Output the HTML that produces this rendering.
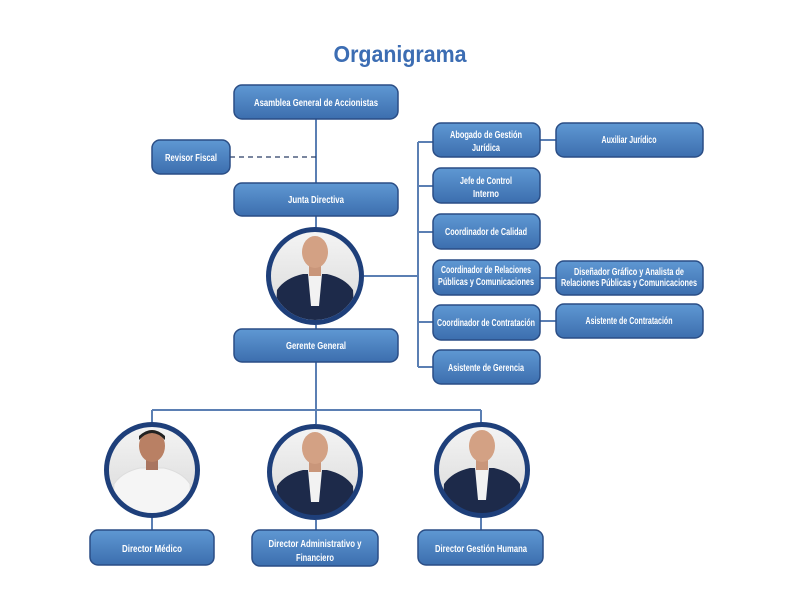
<!DOCTYPE html>
<html><head><meta charset="utf-8"><style>
html,body{margin:0;padding:0;background:#fff;}
svg{display:block;}
text{font-family:"Liberation Sans Narrow","Liberation Sans",sans-serif;font-weight:bold;fill:#fff;text-anchor:middle;}
</style></head><body>
<svg width="794" height="609" viewBox="0 0 794 609" xmlns="http://www.w3.org/2000/svg">
<defs>
<linearGradient id="bg" x1="0" y1="0" x2="0" y2="1">
<stop offset="0" stop-color="#5f98d3"/><stop offset="1" stop-color="#3c6eae"/></linearGradient>
<linearGradient id="ph" x1="0" y1="0" x2="0" y2="1">
<stop offset="0" stop-color="#f4f4f4"/><stop offset="1" stop-color="#d8d8d8"/></linearGradient>
<clipPath id="cc"><circle cx="0" cy="0" r="44"/></clipPath>
<g id="man">
<circle r="44" fill="url(#ph)"/>
<g clip-path="url(#cc)">
<path d="M-40 50 L-38 14 Q-30 2 -12 -2 L12 -2 Q30 2 38 14 L40 50 Z" fill="#1d2a4a"/>
<path d="M-7 -2 L7 -2 L4 30 L-4 30 Z" fill="#f2f2f2"/>
<rect x="-6" y="-14" width="12" height="14" fill="#c9967a"/>
<ellipse cx="0" cy="-24" rx="13" ry="16" fill="#d3a184"/>
</g></g>
<g id="manw">
<circle r="44" fill="url(#ph)"/>
<g clip-path="url(#cc)">
<path d="M-40 50 L-38 14 Q-30 2 -12 -2 L12 -2 Q30 2 38 14 L40 50 Z" fill="#f5f5f5" stroke="#ddd"/>
<rect x="-6" y="-14" width="12" height="14" fill="#a97560"/>
<ellipse cx="0" cy="-24" rx="13" ry="16" fill="#b98064"/>
<path d="M-13 -30 Q0 -44 13 -30 L13 -34 Q0 -46 -13 -34Z" fill="#222"/>
</g></g>
</defs>

<text x="400" y="62" textLength="133" lengthAdjust="spacingAndGlyphs" style="font-family:'Liberation Sans',sans-serif;font-size:23px;fill:#3c6db3">Organigrama</text>

<g stroke="#5b7fb3" stroke-width="2" fill="none">
<line x1="316" y1="119" x2="316" y2="230"/>
<line x1="316" y1="325" x2="316" y2="329"/>
<line x1="364" y1="276" x2="418" y2="276"/>
<line x1="418" y1="142" x2="418" y2="367"/>
<line x1="418" y1="142" x2="433" y2="142"/>
<line x1="418" y1="186" x2="433" y2="186"/>
<line x1="418" y1="232" x2="433" y2="232"/>
<line x1="418" y1="322" x2="433" y2="322"/>
<line x1="418" y1="367" x2="433" y2="367"/>
<line x1="540" y1="140" x2="556" y2="140"/>
<line x1="540" y1="278" x2="556" y2="278"/>
<line x1="540" y1="321" x2="556" y2="321"/>
<line x1="316" y1="362" x2="316" y2="424"/>
<line x1="152" y1="410" x2="481" y2="410"/>
<line x1="152" y1="410" x2="152" y2="423"/>
<line x1="481" y1="410" x2="481" y2="423"/>
<line x1="152" y1="517" x2="152" y2="530"/>
<line x1="316" y1="520" x2="316" y2="530"/>
<line x1="481" y1="517" x2="481" y2="530"/>
</g>
<line x1="230" y1="157" x2="316" y2="157" stroke="#2a3e66" stroke-width="1.3" stroke-dasharray="5,4"/>

<g fill="url(#bg)" stroke="#2a4d85" stroke-width="1.5">
<rect x="234" y="85" width="164" height="34" rx="8"/>
<rect x="152" y="140" width="78" height="34" rx="8"/>
<rect x="234" y="183" width="164" height="33" rx="8"/>
<rect x="234" y="329" width="164" height="33" rx="8"/>
<rect x="433" y="123" width="107" height="34" rx="8"/>
<rect x="433" y="168" width="107" height="35" rx="8"/>
<rect x="433" y="214" width="107" height="35" rx="8"/>
<rect x="433" y="260" width="107" height="35" rx="8"/>
<rect x="433" y="305" width="107" height="35" rx="8"/>
<rect x="433" y="350" width="107" height="34" rx="8"/>
<rect x="556" y="123" width="147" height="34" rx="8"/>
<rect x="556" y="261" width="147" height="34" rx="8"/>
<rect x="556" y="304" width="147" height="34" rx="8"/>
<rect x="90" y="530" width="124" height="35" rx="8"/>
<rect x="252" y="530" width="126" height="36" rx="8"/>
<rect x="418" y="530" width="125" height="35" rx="8"/>
</g>

<g style="font-size:10px">
<text x="316" y="106" textLength="124" lengthAdjust="spacingAndGlyphs">Asamblea General de Accionistas</text>
<text x="191" y="161" textLength="52" lengthAdjust="spacingAndGlyphs">Revisor Fiscal</text>
<text x="316" y="203" textLength="56" lengthAdjust="spacingAndGlyphs">Junta Directiva</text>
<text x="316" y="349" textLength="60" lengthAdjust="spacingAndGlyphs">Gerente General</text>
<text x="486" y="138" textLength="72" lengthAdjust="spacingAndGlyphs">Abogado de Gestión</text>
<text x="486" y="151" textLength="28" lengthAdjust="spacingAndGlyphs">Jurídica</text>
<text x="486" y="184" textLength="52" lengthAdjust="spacingAndGlyphs">Jefe de Control</text>
<text x="486" y="197" textLength="26" lengthAdjust="spacingAndGlyphs">Interno</text>
<text x="486" y="235" textLength="82" lengthAdjust="spacingAndGlyphs">Coordinador de Calidad</text>
<text x="486" y="273" textLength="90" lengthAdjust="spacingAndGlyphs">Coordinador de Relaciones</text>
<text x="486" y="285" textLength="96" lengthAdjust="spacingAndGlyphs">Públicas y Comunicaciones</text>
<text x="486" y="326" textLength="98" lengthAdjust="spacingAndGlyphs">Coordinador de Contratación</text>
<text x="486" y="371" textLength="76" lengthAdjust="spacingAndGlyphs">Asistente de Gerencia</text>
<text x="629" y="143" textLength="55" lengthAdjust="spacingAndGlyphs">Auxiliar Jurídico</text>
<text x="629" y="275" textLength="110" lengthAdjust="spacingAndGlyphs">Diseñador Gráfico y Analista de</text>
<text x="629" y="286" textLength="136" lengthAdjust="spacingAndGlyphs">Relaciones Públicas y Comunicaciones</text>
<text x="629" y="324" textLength="87" lengthAdjust="spacingAndGlyphs">Asistente de Contratación</text>
<text x="152" y="552" textLength="60" lengthAdjust="spacingAndGlyphs">Director Médico</text>
<text x="315" y="547" textLength="93" lengthAdjust="spacingAndGlyphs">Director Administrativo y</text>
<text x="315" y="561" textLength="38" lengthAdjust="spacingAndGlyphs">Financiero</text>
<text x="481" y="552" textLength="92" lengthAdjust="spacingAndGlyphs">Director Gestión Humana</text>
</g>

<g transform="translate(315,276)"><use href="#man"/><circle r="46.5" fill="none" stroke="#1e3f7a" stroke-width="5"/></g>
<g transform="translate(152,470)"><use href="#manw"/><circle r="45.5" fill="none" stroke="#1e3f7a" stroke-width="5"/></g>
<g transform="translate(315,472)"><use href="#man"/><circle r="45.5" fill="none" stroke="#1e3f7a" stroke-width="5"/></g>
<g transform="translate(482,470)"><use href="#man"/><circle r="45.5" fill="none" stroke="#1e3f7a" stroke-width="5"/></g>
</svg>
</body></html>
